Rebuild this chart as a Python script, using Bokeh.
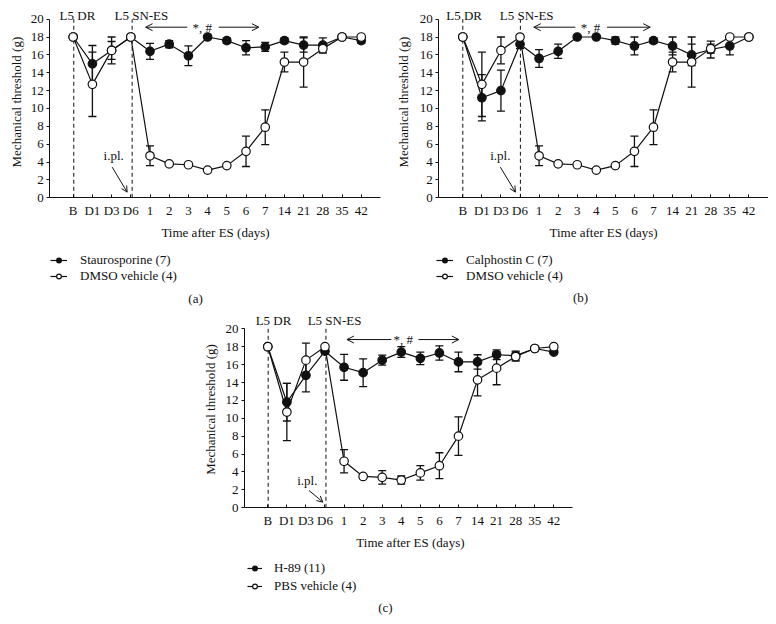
from bokeh.plotting import figure
from bokeh.models import (ColumnDataSource, Whisker, TeeHead, Arrow, OpenHead, Label,
                          Legend, LegendItem, FixedTicker, Range1d, Spacer)
from bokeh.layouts import row, column
from bokeh.embed import file_html
from bokeh.resources import INLINE

FONT = "Liberation Serif"
FS = "13px"
INK = "#111111"

# ---------------- data ----------------
days = ["B", "D1", "D3", "D6", "1", "2", "3", "4", "5", "6", "7", "14", "21", "28", "35", "42"]
y_ticks = [0, 2, 4, 6, 8, 10, 12, 14, 16, 18, 20]

# panel (a)
stauro_mean = [18.0, 15.0, 16.5, 18.0, 16.4, 17.2, 15.9, 18.0, 17.6, 16.8, 16.9, 17.6, 17.1, 17.1, 18.0, 17.6]
stauro_sem = [0.0, 2.05, 1.5, 0.0, 0.9, 0.4, 1.1, 0.1, 0.3, 0.8, 0.5, 0.3, 0.8, 0.8, 0.0, 0.3]
dmso_a_mean = [18.0, 12.7, 16.5, 18.0, 4.7, 3.8, 3.7, 3.1, 3.6, 5.2, 7.9, 15.2, 15.2, 16.7, 18.0, 18.0]
dmso_a_sem = [0.0, 3.6, 1.0, 0.0, 1.1, 0.2, 0.1, 0.1, 0.15, 1.7, 1.95, 1.1, 2.8, 0.5, 0.0, 0.0]

# panel (b)
calph_mean = [18.0, 11.2, 12.0, 17.2, 15.6, 16.4, 18.0, 18.0, 17.6, 17.0, 17.6, 17.0, 16.0, 16.6, 17.0, 18.0]
calph_sem = [0.0, 2.6, 2.3, 0.5, 1.0, 0.8, 0.1, 0.1, 0.4, 1.0, 0.3, 1.0, 1.2, 0.95, 1.0, 0.0]
dmso_b_mean = [18.0, 12.7, 16.5, 18.0, 4.7, 3.8, 3.7, 3.1, 3.6, 5.2, 7.9, 15.2, 15.2, 16.7, 18.0, 18.0]
dmso_b_sem = [0.0, 3.6, 1.5, 0.0, 1.1, 0.2, 0.1, 0.1, 0.15, 1.7, 1.95, 1.1, 2.8, 0.5, 0.0, 0.0]

# panel (c)
h89_mean = [18.0, 11.8, 14.8, 17.5, 15.7, 15.1, 16.5, 17.4, 16.7, 17.3, 16.3, 16.3, 17.1, 17.0, 17.8, 17.4]
h89_sem = [0.0, 2.1, 1.85, 0.3, 1.45, 1.55, 0.55, 0.6, 0.7, 0.8, 1.1, 0.8, 0.55, 0.5, 0.1, 0.2]
pbs_mean = [18.0, 10.7, 16.5, 18.0, 5.2, 3.5, 3.4, 3.1, 3.9, 4.7, 8.0, 14.3, 15.6, 16.9, 17.8, 18.0]
pbs_sem = [0.0, 3.2, 1.9, 0.1, 1.3, 0.2, 0.75, 0.45, 0.8, 1.45, 2.15, 1.8, 1.85, 0.5, 0.1, 0.0]


def add_series(p, mean, sem, filled):
    xs = list(range(len(days)))
    src = ColumnDataSource(dict(
        x=xs, y=mean,
        upper=[m + s for m, s in zip(mean, sem)],
        lower=[m - s for m, s in zip(mean, sem)],
    ))
    w = Whisker(base="x", upper="upper", lower="lower", source=src,
                line_color=INK, line_width=1.3, level="underlay",
                upper_head=TeeHead(size=8, line_width=1.3, line_color=INK),
                lower_head=TeeHead(size=8, line_width=1.3, line_color=INK))
    p.add_layout(w)
    lr = p.line("x", "y", source=src, line_color=INK, line_width=1.2)
    sr = p.scatter("x", "y", source=src, marker="circle", size=8.5,
                   fill_color=INK if filled else "white",
                   line_color=INK, line_width=1.2)
    return lr, sr


def txt(p, x, y, s, angle=0):
    p.add_layout(Label(x=x, y=y, text=s, text_align="center", text_baseline="middle",
                       angle=angle, angle_units="deg",
                       text_font=FONT, text_font_size=FS, text_color=INK))


def make_panel(w, h, xr, yr, yaxis_x, xaxis_end, s1, s2, names, leg_loc, leg_glyph_w,
               leg_standoff, leg_spacing, letter, letter_xy, ylab_xy, xlab_xy,
               dr_x, es_x, dr_lab, es_lab, lab_y, arr_y, arr_l, arr_r, star_x, ipl_xy, ipl_arrow):
    p = figure(width=w, height=h, output_backend="svg", toolbar_location=None,
               x_range=Range1d(*xr), y_range=Range1d(*yr),
               min_border_left=0, min_border_right=0, min_border_top=0,
               min_border_bottom=0)
    p.outline_line_color = None
    p.grid.visible = False
    p.background_fill_color = "white"
    p.border_fill_color = "white"

    xa = p.xaxis[0]
    xa.fixed_location = 0
    xa.bounds = (yaxis_x, xaxis_end)
    xa.ticker = FixedTicker(ticks=list(range(len(days))))
    xa.major_label_overrides = {i: d for i, d in enumerate(days)}
    xa.major_tick_in = 3
    xa.major_tick_out = 0
    xa.minor_tick_line_color = None
    xa.major_label_standoff = 5
    ya = p.yaxis[0]
    ya.fixed_location = yaxis_x
    ya.ticker = FixedTicker(ticks=y_ticks)
    ya.bounds = (0, 20)
    ya.major_tick_out = 3
    ya.major_tick_in = 0
    ya.minor_tick_line_color = None
    ya.major_label_standoff = 3
    for ax in (xa, ya):
        ax.axis_line_color = INK
        ax.major_tick_line_color = INK
        ax.major_label_text_font = FONT
        ax.major_label_text_font_size = FS
        ax.major_label_text_color = INK

    # axis titles
    txt(p, ylab_xy[0], ylab_xy[1], "Mechanical threshold (g)", angle=90)
    txt(p, xlab_xy[0], xlab_xy[1], "Time after ES (days)")

    # dashed markers of procedures
    p.segment(x0=[dr_x, es_x], y0=[0, 0], x1=[dr_x, es_x], y1=[20, 20],
              line_color=INK, line_width=1, line_dash="4 3")
    txt(p, dr_lab, lab_y, "L5 DR")
    txt(p, es_lab, lab_y, "L5 SN-ES")

    # significance arrow
    p.add_layout(Arrow(end=OpenHead(size=7, line_width=1, line_color=INK),
                       x_start=arr_l[0], y_start=arr_y, x_end=arr_l[1], y_end=arr_y,
                       line_width=1, line_color=INK))
    p.add_layout(Arrow(end=OpenHead(size=7, line_width=1, line_color=INK),
                       x_start=arr_r[0], y_start=arr_y, x_end=arr_r[1], y_end=arr_y,
                       line_width=1, line_color=INK))
    txt(p, star_x, arr_y, "*, #")

    # i.pl. arrow
    txt(p, ipl_xy[0], ipl_xy[1], "i.pl.")
    p.add_layout(Arrow(end=OpenHead(size=6, line_width=1, line_color=INK),
                       x_start=ipl_arrow[0], y_start=ipl_arrow[1],
                       x_end=ipl_arrow[2], y_end=ipl_arrow[3],
                       line_width=1, line_color=INK))

    r1 = add_series(p, s1[0], s1[1], True)
    r2 = add_series(p, s2[0], s2[1], False)

    leg = Legend(items=[LegendItem(label=names[0], renderers=list(r1)),
                        LegendItem(label=names[1], renderers=list(r2))],
                 location=leg_loc, orientation="vertical",
                 label_text_font=FONT, label_text_font_size=FS, label_text_color=INK,
                 glyph_width=leg_glyph_w, glyph_height=12, label_height=12,
                 label_standoff=leg_standoff, spacing=leg_spacing, padding=0,
                 margin=0, border_line_color=None, background_fill_alpha=0)
    p.add_layout(leg)

    txt(p, letter_xy[0], letter_xy[1], letter)
    return p


pa = make_panel(388, 308, (-3.786, 16.42), (-12.40, 22.09), -1.219, 16.005,
                (stauro_mean, stauro_sem), (dmso_a_mean, dmso_a_sem),
                ("Staurosporine (7)", "DMSO vehicle (4)"), (50, 24), 17, 13, 0,
                "(a)", (6.37, -11.3), (-2.953, 10.71), (7.41, -3.92),
                0.03, 3.07, 0.22, 3.55, 20.4, 19.1,
                (5.94, 3.77), (7.58, 9.67), 6.72, (2.11, 4.74), (2.03, 3.43, 2.81, 0.63))

pb = make_panel(380, 308, (-3.896, 16.03), (-12.40, 22.09), -1.259, 16.015,
                (calph_mean, calph_sem), (dmso_b_mean, dmso_b_sem),
                ("Calphostin C (7)", "DMSO vehicle (4)"), (48, 24), 17, 13, 0,
                "(b)", (6.17, -11.2), (-3.094, 10.71), (7.38, -3.92),
                0.0, 3.02, 0.07, 3.35, 20.4, 19.1,
                (5.9, 3.72), (7.56, 9.83), 6.69, (1.97, 4.74), (1.97, 3.43, 2.76, 0.63))

pc = make_panel(380, 308, (-3.739, 16.19), (-12.15, 22.27), -1.222, 16.0,
                (h89_mean, h89_sem), (pbs_mean, pbs_sem),
                ("H-89 (11)", "PBS vehicle (4)"), (51, 22), 15, 12, 2,
                "(c)", (6.17, -11.15), (-3.005, 10.98), (7.48, -3.84),
                0.02, 3.05, 0.3, 3.5, 20.9, 18.8,
                (6.48, 4.15), (7.9, 10.02), 7.1, (2.07, 3.05), (2.16, 1.94, 2.89, 0.63))

layout = column(row(pa, pb), row(Spacer(width=196, height=308), pc))

with open("out.html", "w") as f:
    f.write(file_html(layout, INLINE))
